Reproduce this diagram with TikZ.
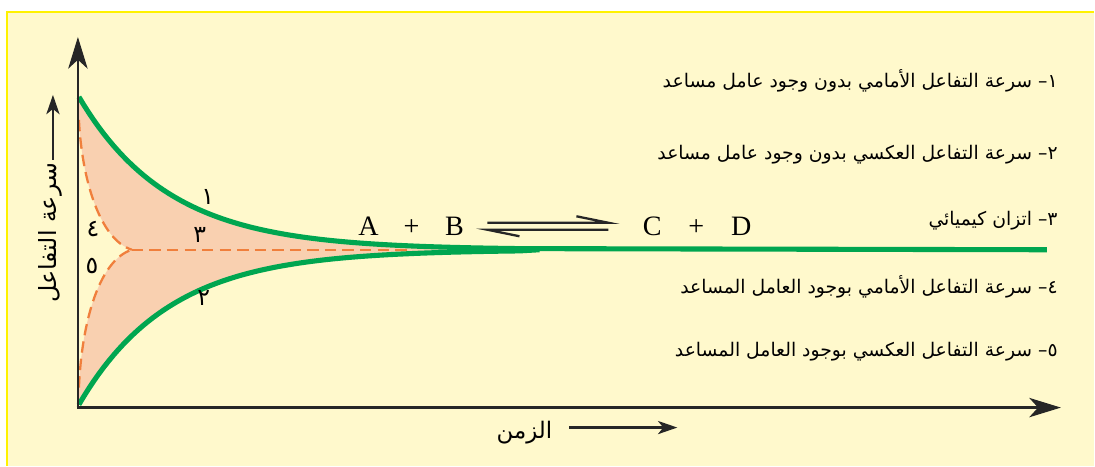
\documentclass[tikz,border=0pt]{standalone}
\usepackage{fontspec}
\setmainfont{Liberation Serif}
\newfontfamily\arabicfont[Script=Arabic]{DejaVu Sans}
\TeXXeTstate=1
\usetikzlibrary{arrows.meta}
\definecolor{bgyellow}{HTML}{FFF9CC}
\definecolor{frameyellow}{HTML}{FFF200}
\definecolor{ratefill}{HTML}{F9D0B0}
\definecolor{rategreen}{HTML}{00A650}
\definecolor{cataorange}{HTML}{F07F3C}
\begin{document}
\begin{tikzpicture}[x=0.02cm, y=-0.02cm,
  axis/.style={line width=1.6pt, black!85},
  ratecurve/.style={line width=2.9pt, rategreen},
  catacurve/.style={line width=1.3pt, cataorange, dash pattern=on 6.5pt off 3.5pt},
  legend/.style={anchor=east, font=\arabicfont\fontsize{10.7}{13}\selectfont, inner sep=0pt},
  numlbl/.style={font=\arabicfont\fontsize{13.5}{15}\selectfont, inner sep=0pt},
  chem/.style={font=\fontsize{16}{18}\selectfont, inner sep=0pt, anchor=base}]
\fill[white] (0,0) rectangle (1095,466);
\fill[bgyellow] (7,12) rectangle (1095,466);
\draw[frameyellow, line width=1.3pt] (7,466) -- (7,12) -- (1095,12);
% area between the curves
\fill[ratefill] plot[domain=79:520, samples=90] (\x,{250-153*exp(-(\x-79)/90)})
  -- plot[domain=520:79, samples=90] (\x,{250+155*exp(-(\x-79)/90)})
  -- (79,388) .. controls (82,320) and (100,260) .. (132,250)
  .. controls (100,240) and (82,180) .. (79,120) -- cycle;
\draw[catacurve] (79,120) .. controls (82,180) and (100,240) .. (132,250);
\draw[catacurve] (79,388) .. controls (82,320) and (100,260) .. (132,250);
\draw[catacurve] (132,250) -- (410,250);
\draw[ratecurve] plot[domain=79:520, samples=90] (\x,{250-153*exp(-(\x-79)/90)}) -- (1048,250);
\draw[ratecurve] plot[domain=79:520, samples=90] (\x,{250+155*exp(-(\x-79)/90)}) -- (540,250);
\coordinate (o) at (78,408);
\coordinate (ytop) at (78,37);
\coordinate (xend) at (1062,408);
\draw[axis, -{Stealth[length=18pt, width=11pt, inset=5pt]}] ([yshift=-0.8pt]o) -- (ytop);
\draw[axis, -{Stealth[length=18pt, width=11pt, inset=5pt]}] ([xshift=-0.8pt]o) -- (xend);
% curve numbers
\node[numlbl] (n1) at (208,197) {١};
\node[numlbl] (n3) at (200,235) {٣};
\node[numlbl] (n2) at (204,298) {٢};
\node[numlbl] (n4) at (93,229) {٤};
\node[numlbl] (n5) at (92,266) {٥};
% axis titles
\node[rotate=90, font=\arabicfont\fontsize{13.5}{15}\selectfont, inner sep=0pt] (vlbl) at (50,233) {\beginR سرعة التفاعل\endR};
\coordinate (vtip) at (53,95);
\draw[line width=1.3pt, black!85, -{Stealth[length=11pt, width=7.5pt, inset=3pt]}] (53,160) -- (vtip);
\node[font=\arabicfont\fontsize{13}{15}\selectfont, inner sep=0pt] (tlbl) at (525,433) {\beginR الزمن\endR};
\coordinate (ttip) at (678,428);
\draw[line width=1.3pt, black!85, -{Stealth[length=11pt, width=7.5pt, inset=3pt]}] (570,428) -- (ttip);
% equation
\node[chem] (A) at (369,236) {A};
\node[chem] (p1) at (412,236) {+};
\node[chem] (B) at (455,236) {B};
\node[chem] (C) at (653,236) {C};
\node[chem] (p2) at (697,236) {+};
\node[chem] (D) at (742,236) {D};
\coordinate (fwdL) at (488,223);
\coordinate (fwdR) at (609,223);
\coordinate (revL) at (488,230);
\coordinate (revR) at (609,230);
\draw[line width=1.3pt, black!85] (fwdL) -- (fwdR) -- (577,216.5);
\draw[line width=1.3pt, black!85] (revR) -- (revL) -- (520,236.5);
% legend
\node[legend] (l1) at (1059,81) {\beginR ١– سرعة التفاعل الأمامي بدون وجود عامل مساعد\endR};
\node[legend] (l2) at (1059,155) {\beginR ٢– سرعة التفاعل العكسي بدون وجود عامل مساعد\endR};
\node[legend] (l3) at (1059,221) {\beginR ٣– اتزان كيميائي\endR};
\node[legend] (l4) at (1059,287) {\beginR ٤– سرعة التفاعل الأمامي بوجود العامل المساعد\endR};
\node[legend] (l5) at (1059,352) {\beginR ٥– سرعة التفاعل العكسي بوجود العامل المساعد\endR};
\end{tikzpicture}
\end{document}
